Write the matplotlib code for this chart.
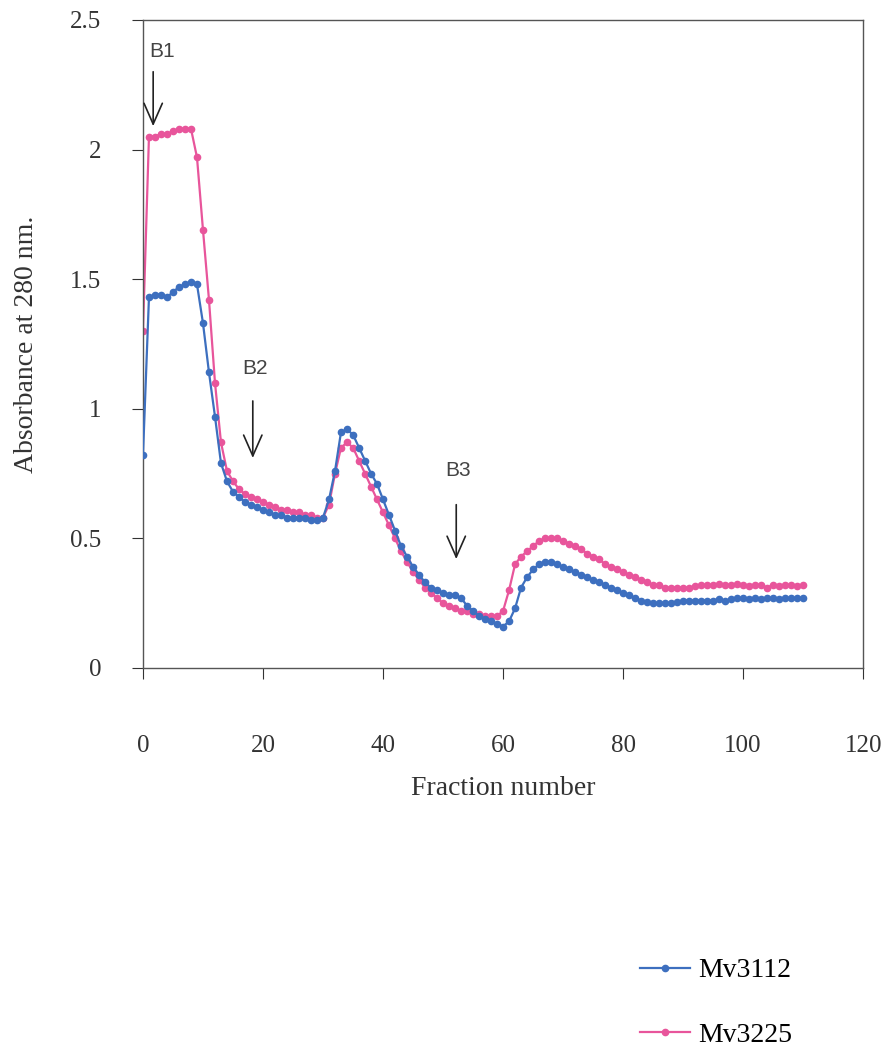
import numpy as np
import matplotlib.pyplot as plt

fractions = np.arange(0, 111)

mv3112 = [0.82, 1.43, 1.44, 1.44, 1.43, 1.45, 1.47, 1.48, 1.49, 1.48,
          1.33, 1.14, 0.97, 0.79, 0.72, 0.68, 0.66, 0.64, 0.63, 0.62,
          0.61, 0.60, 0.59, 0.59, 0.58, 0.58, 0.58, 0.58, 0.57, 0.57,
          0.58, 0.65, 0.76, 0.91, 0.92, 0.90, 0.85, 0.80, 0.75, 0.71,
          0.65, 0.59, 0.53, 0.47, 0.43, 0.39, 0.36, 0.33, 0.31, 0.30,
          0.29, 0.28, 0.28, 0.27, 0.24, 0.22, 0.20, 0.19, 0.18, 0.17,
          0.16, 0.18, 0.23, 0.31, 0.35, 0.38, 0.40, 0.41, 0.41, 0.40,
          0.39, 0.38, 0.37, 0.36, 0.35, 0.34, 0.33, 0.32, 0.31, 0.30,
          0.29, 0.28, 0.27, 0.26, 0.255, 0.25, 0.25, 0.25, 0.25, 0.255,
          0.26, 0.26, 0.26, 0.26, 0.26, 0.26, 0.265, 0.26, 0.265, 0.27,
          0.27, 0.265, 0.27, 0.265, 0.27, 0.27, 0.265, 0.27, 0.27, 0.27,
          0.27]

mv3225 = [1.30, 2.05, 2.05, 2.06, 2.06, 2.07, 2.08, 2.08, 2.08, 1.97,
          1.69, 1.42, 1.10, 0.87, 0.76, 0.72, 0.69, 0.67, 0.66, 0.65,
          0.64, 0.63, 0.62, 0.61, 0.61, 0.60, 0.60, 0.59, 0.59, 0.58,
          0.58, 0.63, 0.75, 0.85, 0.87, 0.85, 0.80, 0.75, 0.70, 0.65,
          0.60, 0.55, 0.50, 0.45, 0.41, 0.37, 0.34, 0.31, 0.29, 0.27,
          0.25, 0.24, 0.23, 0.22, 0.22, 0.21, 0.21, 0.20, 0.20, 0.20,
          0.22, 0.30, 0.40, 0.43, 0.45, 0.47, 0.49, 0.50, 0.50, 0.50,
          0.49, 0.48, 0.47, 0.46, 0.44, 0.43, 0.42, 0.40, 0.39, 0.38,
          0.37, 0.36, 0.35, 0.34, 0.33, 0.32, 0.32, 0.31, 0.31, 0.31,
          0.31, 0.31, 0.315, 0.32, 0.32, 0.32, 0.325, 0.32, 0.32, 0.325,
          0.32, 0.315, 0.32, 0.32, 0.31, 0.32, 0.315, 0.32, 0.32, 0.315,
          0.32]

# peak markers: name, arrow fraction, label fraction, label bottom, arrow top, arrow tip
peaks = [("B1", 1.7, 3.2, 2.34, 2.30, 2.09),
         ("B2", 18.3, 18.7, 1.12, 1.03, 0.81),
         ("B3", 52.2, 52.5, 0.725, 0.63, 0.42)]

blue = '#3d6fbf'
pink = '#e8559b'

plt.rcParams['font.family'] = ['Liberation Serif', 'DejaVu Serif']

fig = plt.figure(figsize=(8.88, 10.47), dpi=100)
ax = fig.add_axes([0.161, 0.362, 0.811, 0.619])

ax.plot(fractions, mv3112, '-o', color=blue, ms=4.5, lw=1.6, label='Mv3112', zorder=3)
ax.plot(fractions, mv3225, '-o', color=pink, ms=4.5, lw=1.6, label='Mv3225', zorder=2)

for name, fx, lx, ly, top, tip in peaks:
    ax.annotate('', xy=(fx, tip), xytext=(fx, top),
                arrowprops=dict(arrowstyle='->, head_length=0.5, head_width=0.22',
                                color='#222222', lw=1.2, mutation_scale=30,
                                shrinkA=0, shrinkB=0))
    ax.text(lx, ly, name, family='Liberation Sans', fontsize=15,
            color='#444444', ha='center', va='bottom')

ax.set_xlim(0, 120)
ax.set_ylim(0, 2.5)
ax.set_xticks(np.arange(0, 121, 20))
ax.set_yticks([0, 0.5, 1, 1.5, 2, 2.5])
ax.set_yticklabels(['0', '0.5', '1', '1.5', '2', '2.5'])
ax.tick_params(axis='x', direction='out', length=8, pad=40, labelsize=18, colors='#333333')
ax.tick_params(axis='y', direction='out', length=8, pad=22, labelsize=18, colors='#333333')
ax.tick_params(right=False, top=False)
for s in ax.spines.values():
    s.set_color('#555555')
    s.set_linewidth(1.0)

ax.set_xlabel('Fraction number', fontsize=20, color='#333333', labelpad=14)
ax.set_ylabel('Absorbance at 280 nm.', fontsize=20, color='#333333', labelpad=22)

fig.legend(loc='upper left', bbox_to_anchor=(0.721, 0.085), frameon=False,
           fontsize=20, handlelength=1.8, labelspacing=1.4, handletextpad=0.3,
           borderpad=0, borderaxespad=0)

fig.savefig('out.png', dpi=100)
